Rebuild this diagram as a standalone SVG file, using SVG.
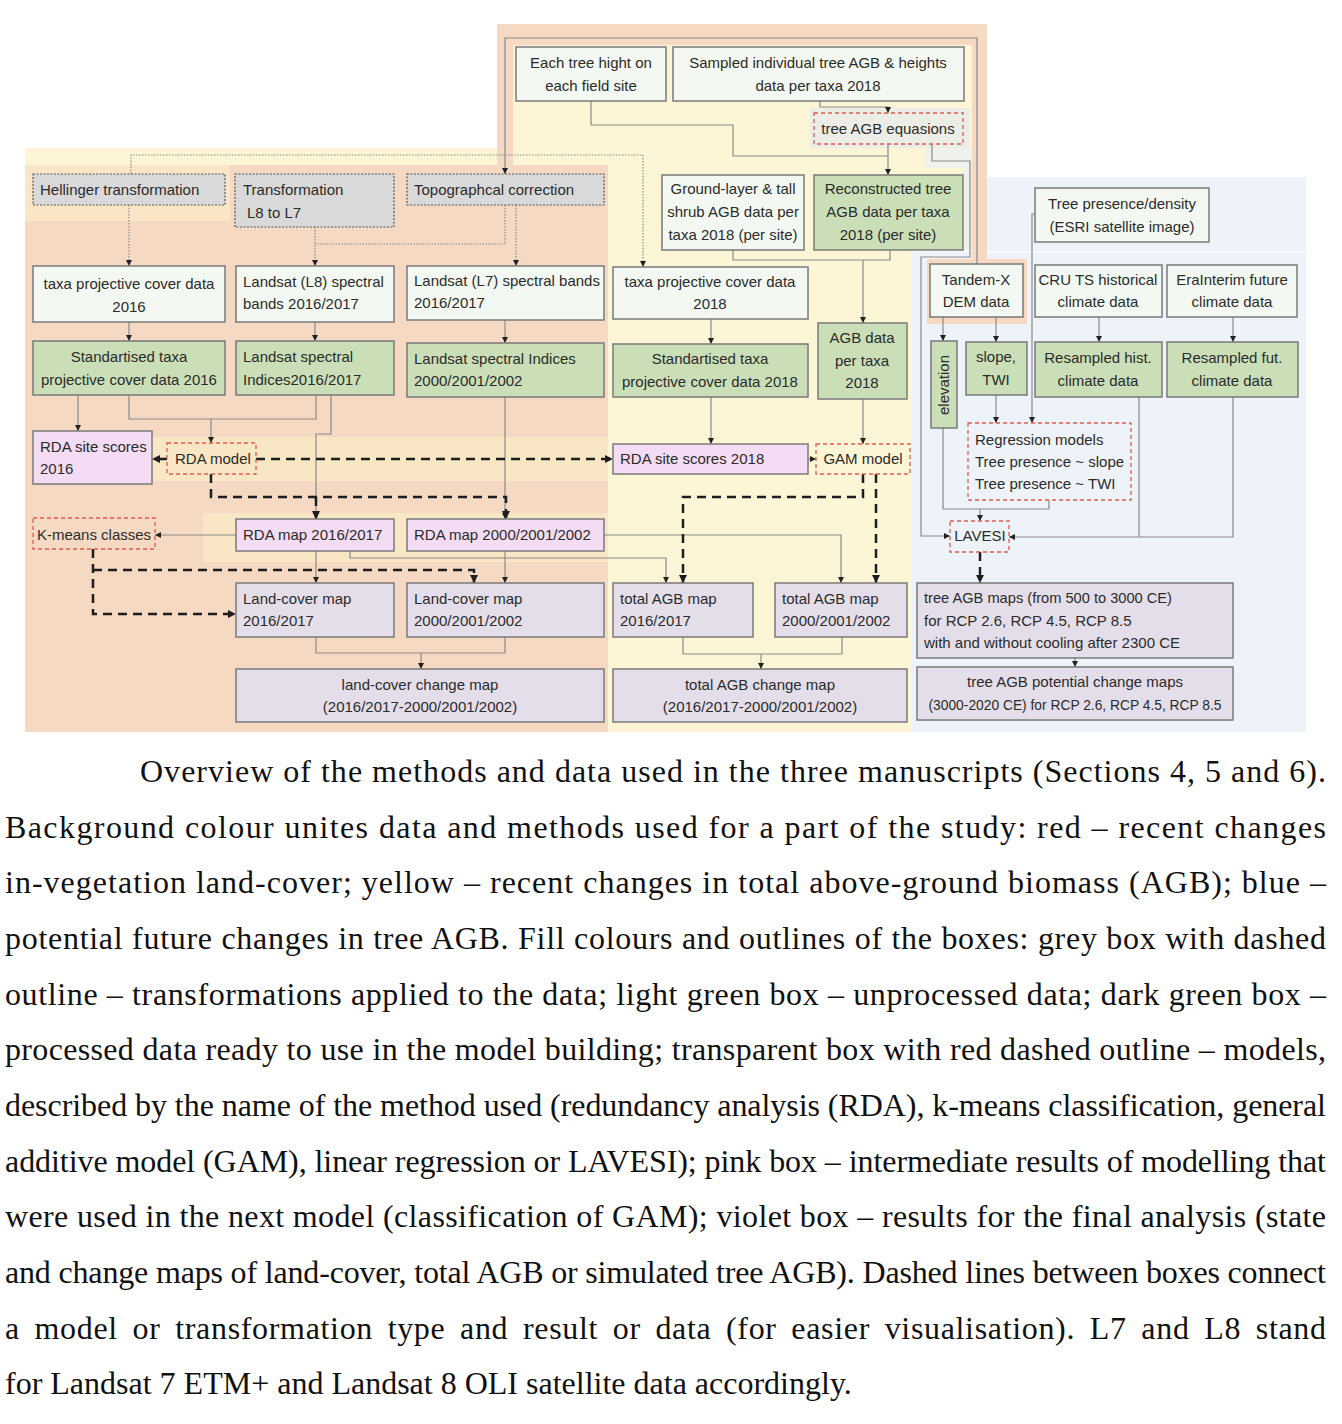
<svg xmlns="http://www.w3.org/2000/svg" width="1342" height="1424" viewBox="0 0 1342 1424">
<defs>
<marker id="a" viewBox="0 0 6 6" refX="6" refY="3" markerWidth="6" markerHeight="6" orient="auto" markerUnits="userSpaceOnUse"><path d="M0,0L6,3L0,6z" fill="#222"/></marker>
<marker id="b" viewBox="0 0 8 8" refX="8" refY="4" markerWidth="8" markerHeight="8" orient="auto" markerUnits="userSpaceOnUse"><path d="M0,0L8,4L0,8z" fill="#1e1e1e"/></marker>
<style>
.t{font-family:"Liberation Sans",Arial,sans-serif;font-size:15px;fill:#2b2b2b}
.c{text-anchor:middle}
.cap{font-family:"Liberation Serif","Times New Roman",serif;font-size:32px;fill:#111}
.w{fill:#f3f9f2;stroke:#7a7a7a;stroke-width:1.5}
.g{fill:#cadfb8;stroke:#7a7a7a;stroke-width:1.5}
.gr{fill:#d9d9d9;stroke:#555;stroke-width:1.2;stroke-dasharray:2 1.5}
.p{fill:#f4dcf4;stroke:#7a7a7a;stroke-width:1.5}
.v{fill:#e4deea;stroke:#7a7a7a;stroke-width:1.5}
.r{fill:none;stroke:#e05b50;stroke-width:1.3;stroke-dasharray:4 3}
.l{fill:none;stroke:#8a8a8a;stroke-width:1.2}
.la{fill:none;stroke:#8a8a8a;stroke-width:1.2;marker-end:url(#a)}
.d{fill:none;stroke:#8a8a8a;stroke-width:1.2;stroke-dasharray:1.5 1.5}
.da{fill:none;stroke:#8a8a8a;stroke-width:1.2;stroke-dasharray:1.5 1.5;marker-end:url(#a)}
.k{fill:none;stroke:#1e1e1e;stroke-width:2.5;stroke-dasharray:9 6}
.ka{fill:none;stroke:#1e1e1e;stroke-width:2.5;stroke-dasharray:9 6;marker-end:url(#b)}
</style>
</defs>
<rect width="1342" height="1424" fill="#fff"/>
<g id="backgrounds">
<rect x="497" y="24" width="490" height="226" fill="#f5d9c3"/>
<rect x="513" y="45" width="459" height="205" fill="#fdf6d6"/>
<rect x="25" y="148" width="472" height="17" fill="#fdf6d6"/>
<rect x="608" y="148" width="304" height="584" fill="#fdf6d6"/>
<rect x="25" y="165" width="583" height="567" fill="#f5d9c3"/>
<rect x="25" y="165" width="205" height="56" fill="#fae6c6"/>
<rect x="146" y="437" width="462" height="44" fill="#f9e6c4"/>
<rect x="203" y="513" width="405" height="49" fill="#f9e6c4"/>
<rect x="810" y="108" width="160" height="40" fill="#ecede6"/>
<rect x="925" y="148" width="47" height="20" fill="#f0f1ec"/>
<rect x="964" y="168" width="8" height="82" fill="#f0f1ec"/>
<rect x="912" y="252" width="394" height="480" fill="#eef2f9"/>
<rect x="987" y="177" width="319" height="75" fill="#eef2f9"/>
<rect x="987" y="251" width="319" height="2" fill="#f8fafd"/>
<rect x="972" y="24" width="15" height="240" fill="#f5d9c3"/>
<rect x="927" y="259" width="100" height="65" fill="#f5d9c3"/>
</g>
<g id="connectors">
<path class="l" d="M591,101V125H733V156H888"/>
<path class="la" d="M820,101V107H888V113"/>
<path class="la" d="M888,144V175"/>
<path class="la" d="M932,144V161H970V257H921V536H950"/>
<path class="la" d="M977,264V38H505V174"/>
<path class="l" d="M733,250V260H890V250"/>
<path class="la" d="M863,260V323"/>
<path class="la" d="M129,322V341"/>
<path class="la" d="M315,322V341"/>
<path class="la" d="M505,320V343"/>
<path class="la" d="M711,319V344"/>
<path class="la" d="M78,395V431"/>
<path class="l" d="M129,395V419H316V395"/>
<path class="la" d="M211,419V443"/>
<path class="la" d="M331,395V434H316V519"/>
<path class="la" d="M505,397V519"/>
<path class="la" d="M316,551V583"/>
<path class="la" d="M505,551V583"/>
<path class="la" d="M236,535H155"/>
<path class="la" d="M350,551V558H666V583"/>
<path class="la" d="M604,535H841V583"/>
<path class="la" d="M711,397V444"/>
<path class="la" d="M863,399V444"/>
<path class="la" d="M808,459H816"/>
<path class="l" d="M316,637V653H505V637"/>
<path class="la" d="M421,653V669"/>
<path class="l" d="M683,637V654H842V637"/>
<path class="la" d="M761,654V669"/>
<path class="la" d="M1075,658V667"/>
<path class="la" d="M943,317V341"/>
<path class="la" d="M996,317V342"/>
<path class="la" d="M1099,317V342"/>
<path class="la" d="M1233,317V342"/>
<path class="la" d="M1035,214H1032V423"/>
<path class="la" d="M996,395V423"/>
<path class="l" d="M943,428V509H1049V500"/>
<path class="la" d="M980,509V521"/>
<path class="la" d="M1233,397V537H1009"/>
<path class="l" d="M1139,397V537"/>
<path class="da" d="M131,174V155H643V267"/>
<path class="da" d="M129,205V266"/>
<path class="da" d="M315,227V266"/>
<path class="d" d="M505,205V244H315"/>
<path class="da" d="M516,205V266"/>
<path class="ka" d="M167,459H152"/>
<path class="ka" d="M256,459H613"/>
<path class="ka" d="M211,474V497H506V519"/>
<path class="ka" d="M316,497V519"/>
<path class="ka" d="M93,549V614H236"/>
<path class="ka" d="M93,570H474V583"/>
<path class="ka" d="M863,474V497H683V583"/>
<path class="ka" d="M876,474V583"/>
<path class="ka" d="M980,552V583"/>
</g>
<g id="n1"><rect class="w" x="516" y="47" width="150" height="54"/><text class="t c" x="591" y="68">Each tree hight on</text><text class="t c" x="591" y="91">each field site</text></g>
<g id="n2"><rect class="w" x="673" y="47" width="291" height="54"/><text class="t c" x="818" y="68">Sampled individual tree AGB &amp; heights</text><text class="t c" x="818" y="91">data per taxa 2018</text></g>
<g id="n3"><rect class="r" x="814" y="113" width="149" height="31"/><text class="t c" x="888" y="134">tree AGB equasions</text></g>
<g id="n4"><rect class="gr" x="33" y="174" width="192" height="31"/><text class="t" x="40" y="195">Hellinger transformation</text></g>
<g id="n5"><rect class="gr" x="235" y="174" width="159" height="53"/><text class="t" x="243" y="195">Transformation</text><text class="t" x="247" y="218">L8 to L7</text></g>
<g id="n6"><rect class="gr" x="407" y="174" width="197" height="31"/><text class="t" x="414" y="195">Topographcal correction</text></g>
<g id="n7"><rect class="w" x="662" y="175" width="142" height="75"/><text class="t c" x="733" y="194">Ground-layer &amp; tall</text><text class="t c" x="733" y="217">shrub AGB data per</text><text class="t c" x="733" y="240">taxa 2018 (per site)</text></g>
<g id="n8"><rect class="g" x="814" y="175" width="149" height="75"/><text class="t c" x="888" y="194">Reconstructed tree</text><text class="t c" x="888" y="217">AGB data per taxa</text><text class="t c" x="888" y="240">2018 (per site)</text></g>
<g id="n9"><rect class="w" x="1035" y="188" width="174" height="54"/><text class="t c" x="1122" y="209">Tree presence/density</text><text class="t c" x="1122" y="232">(ESRI satellite image)</text></g>
<g id="n10"><rect class="w" x="33" y="266" width="192" height="56"/><text class="t c" x="129" y="289">taxa projective cover data</text><text class="t c" x="129" y="312">2016</text></g>
<g id="n11"><rect class="w" x="236" y="266" width="158" height="56"/><text class="t" x="243" y="287">Landsat (L8) spectral</text><text class="t" x="243" y="309">bands 2016/2017</text></g>
<g id="n12"><rect class="w" x="407" y="266" width="197" height="54"/><text class="t" x="414" y="286">Landsat (L7) spectral bands</text><text class="t" x="414" y="308">2016/2017</text></g>
<g id="n13"><rect class="w" x="613" y="267" width="195" height="52"/><text class="t c" x="710" y="287">taxa projective cover data</text><text class="t c" x="710" y="309">2018</text></g>
<g id="n14"><rect class="w" x="930" y="264" width="93" height="53"/><text class="t c" x="976" y="285">Tandem-X</text><text class="t c" x="976" y="307">DEM data</text></g>
<g id="n15"><rect class="w" x="1035" y="265" width="127" height="52"/><text class="t c" x="1098" y="285">CRU TS historical</text><text class="t c" x="1098" y="307">climate data</text></g>
<g id="n16"><rect class="w" x="1167" y="265" width="130" height="52"/><text class="t c" x="1232" y="285">EraInterim future</text><text class="t c" x="1232" y="307">climate data</text></g>
<g id="n17"><rect class="g" x="33" y="341" width="192" height="54"/><text class="t c" x="129" y="362">Standartised taxa</text><text class="t c" x="129" y="385">projective cover data 2016</text></g>
<g id="n18"><rect class="g" x="236" y="341" width="158" height="54"/><text class="t" x="243" y="362">Landsat spectral</text><text class="t" x="243" y="385">Indices2016/2017</text></g>
<g id="n19"><rect class="g" x="407" y="343" width="197" height="54"/><text class="t" x="414" y="364">Landsat spectral Indices</text><text class="t" x="414" y="386">2000/2001/2002</text></g>
<g id="n20"><rect class="g" x="613" y="344" width="195" height="53"/><text class="t c" x="710" y="364">Standartised taxa</text><text class="t c" x="710" y="387">projective cover data 2018</text></g>
<g id="n21"><rect class="g" x="818" y="323" width="89" height="76"/><text class="t c" x="862" y="343">AGB data</text><text class="t c" x="862" y="366">per taxa</text><text class="t c" x="862" y="388">2018</text></g>
<g id="n22"><rect class="g" x="931" y="341" width="26" height="87"/><text class="t c" transform="translate(949,385) rotate(-90)">elevation</text></g>
<g id="n23"><rect class="g" x="966" y="342" width="61" height="53"/><text class="t c" x="996" y="362">slope,</text><text class="t c" x="996" y="385">TWI</text></g>
<g id="n24"><rect class="g" x="1035" y="342" width="127" height="55"/><text class="t c" x="1098" y="363">Resampled hist.</text><text class="t c" x="1098" y="386">climate data</text></g>
<g id="n25"><rect class="g" x="1167" y="342" width="131" height="55"/><text class="t c" x="1232" y="363">Resampled fut.</text><text class="t c" x="1232" y="386">climate data</text></g>
<g id="n26"><rect class="p" x="33" y="431" width="119" height="53"/><text class="t" x="40" y="452">RDA site scores</text><text class="t" x="40" y="474">2016</text></g>
<g id="n27"><rect class="r" x="167" y="443" width="89" height="31"/><text class="t" x="175" y="464">RDA model</text></g>
<g id="n28"><rect class="p" x="613" y="444" width="195" height="30"/><text class="t" x="620" y="464">RDA site scores 2018</text></g>
<g id="n29"><rect class="r" x="816" y="444" width="94" height="30"/><text class="t c" x="863" y="464">GAM model</text></g>
<g id="n30"><rect class="r" x="968" y="423" width="163" height="77"/><text class="t" x="975" y="445">Regression models</text><text class="t" x="975" y="467">Tree presence ~ slope</text><text class="t" x="975" y="489">Tree presence ~ TWI</text></g>
<g id="n31"><rect class="r" x="33" y="518" width="122" height="31"/><text class="t c" x="94" y="540">K-means classes</text></g>
<g id="n32"><rect class="p" x="236" y="519" width="158" height="32"/><text class="t" x="243" y="540">RDA map 2016/2017</text></g>
<g id="n33"><rect class="p" x="407" y="519" width="197" height="32"/><text class="t" x="414" y="540">RDA map 2000/2001/2002</text></g>
<g id="n34"><rect class="r" x="950" y="521" width="59" height="31"/><text class="t c" x="980" y="541">LAVESI</text></g>
<g id="n35"><rect class="v" x="236" y="583" width="158" height="54"/><text class="t" x="243" y="604">Land-cover map</text><text class="t" x="243" y="626">2016/2017</text></g>
<g id="n36"><rect class="v" x="407" y="583" width="197" height="54"/><text class="t" x="414" y="604">Land-cover map</text><text class="t" x="414" y="626">2000/2001/2002</text></g>
<g id="n37"><rect class="v" x="613" y="583" width="140" height="54"/><text class="t" x="620" y="604">total AGB map</text><text class="t" x="620" y="626">2016/2017</text></g>
<g id="n38"><rect class="v" x="775" y="583" width="132" height="54"/><text class="t" x="782" y="604">total AGB map</text><text class="t" x="782" y="626">2000/2001/2002</text></g>
<g id="n39"><rect class="v" x="917" y="583" width="316" height="75"/><text class="t" x="924" y="603" textLength="248" lengthAdjust="spacingAndGlyphs">tree AGB maps (from 500 to 3000 CE)</text><text class="t" x="924" y="626">for RCP 2.6, RCP 4.5, RCP 8.5</text><text class="t" x="924" y="648">with and without cooling after 2300 CE</text></g>
<g id="n40"><rect class="v" x="236" y="669" width="368" height="53"/><text class="t c" x="420" y="690">land-cover change map</text><text class="t c" x="420" y="712">(2016/2017-2000/2001/2002)</text></g>
<g id="n41"><rect class="v" x="613" y="669" width="294" height="53"/><text class="t c" x="760" y="690">total AGB change map</text><text class="t c" x="760" y="712">(2016/2017-2000/2001/2002)</text></g>
<g id="n42"><rect class="v" x="917" y="667" width="316" height="53"/><text class="t c" x="1075" y="687">tree AGB potential change maps</text><text class="t c" x="1075" y="710" textLength="293" lengthAdjust="spacingAndGlyphs">(3000-2020 CE) for RCP 2.6, RCP 4.5, RCP 8.5</text></g>
<g id="caption">
<text class="cap" x="140" y="782" textLength="1186" lengthAdjust="spacing">Overview of the methods and data used in the three manuscripts (Sections 4, 5 and 6).</text>
<text class="cap" x="5" y="838" textLength="1321" lengthAdjust="spacing">Background colour unites data and methods used for a part of the study: red – recent changes</text>
<text class="cap" x="5" y="893" textLength="1321" lengthAdjust="spacing">in-vegetation land-cover; yellow – recent changes in total above-ground biomass (AGB); blue –</text>
<text class="cap" x="5" y="949" textLength="1321" lengthAdjust="spacing">potential future changes in tree AGB. Fill colours and outlines of the boxes: grey box with dashed</text>
<text class="cap" x="5" y="1005" textLength="1321" lengthAdjust="spacing">outline – transformations applied to the data; light green box – unprocessed data; dark green box –</text>
<text class="cap" x="5" y="1060" textLength="1321" lengthAdjust="spacing">processed data ready to use in the model building; transparent box with red dashed outline – models,</text>
<text class="cap" x="5" y="1116" textLength="1321" lengthAdjust="spacing">described by the name of the method used (redundancy analysis (RDA), k-means classification, general</text>
<text class="cap" x="5" y="1172" textLength="1321" lengthAdjust="spacing">additive model (GAM), linear regression or LAVESI); pink box – intermediate results of modelling that</text>
<text class="cap" x="5" y="1227" textLength="1321" lengthAdjust="spacing">were used in the next model (classification of GAM); violet box – results for the final analysis (state</text>
<text class="cap" x="5" y="1283" textLength="1321" lengthAdjust="spacing">and change maps of land-cover, total AGB or simulated tree AGB). Dashed lines between boxes connect</text>
<text class="cap" x="5" y="1339" textLength="1321" lengthAdjust="spacing" word-spacing="6">a model or transformation type and result or data (for easier visualisation). L7 and L8 stand</text>
<text class="cap" x="5" y="1394">for Landsat 7 ETM+ and Landsat 8 OLI satellite data accordingly.</text>
</g>
</svg>
